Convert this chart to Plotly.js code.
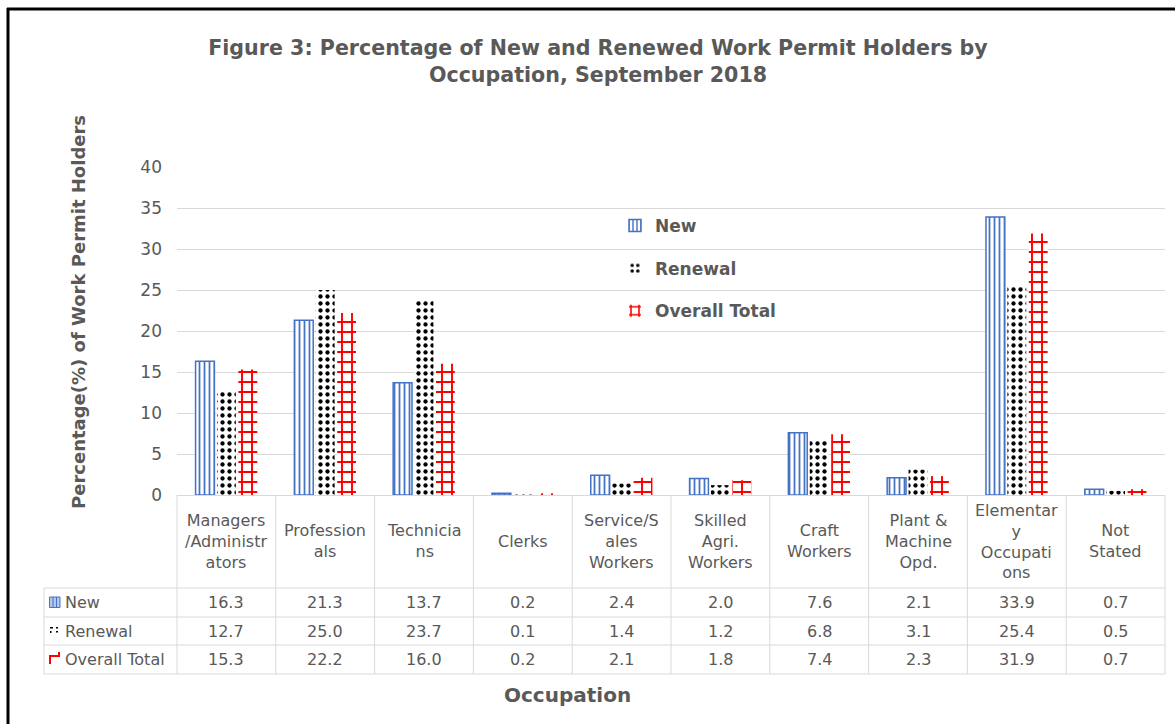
<!DOCTYPE html>
<html><head><meta charset="utf-8">
<script src="https://cdn.plot.ly/plotly-3.0.1.min.js"></script>
<style>html,body{margin:0;padding:0;background:#fff;}#chart{width:1175px;height:724px;}</style>
</head><body><div id="chart"></div>
<script>
// ---- data ----
const categories = ["Managers<br>/Administr<br>ators", "Profession<br>als", "Technicia<br>ns", "Clerks",
  "Service/S<br>ales<br>Workers", "Skilled<br>Agri.<br>Workers", "Craft<br>Workers",
  "Plant &<br>Machine<br>Opd.", "Elementar<br>y<br>Occupati<br>ons", "Not<br>Stated"];
const seriesNames = ["New", "Renewal", "Overall Total"];
const newVals = [16.3, 21.3, 13.7, 0.2, 2.4, 2.0, 7.6, 2.1, 33.9, 0.7];
const renewalVals = [12.7, 25.0, 23.7, 0.1, 1.4, 1.2, 6.8, 3.1, 25.4, 0.5];
const totalVals = [15.3, 22.2, 16.0, 0.2, 2.1, 1.8, 7.4, 2.3, 31.9, 0.7];
const yTickVals = [0, 5, 10, 15, 20, 25, 30, 35, 40];
const titleText = "Figure 3: Percentage of New and Renewed Work Permit Holders by<br>Occupation, September 2018";
const yTitleText = "Percentage(%) of Work Permit Holders";
const xTitleText = "Occupation";

// ---- style ----
const TXT = '#595959', GRID = '#D9D9D9';
const FONT = '"DejaVu Sans", sans-serif';
const W = 1175, H = 724, L = 177, R = 10, T = 167, B = 229;
const pw = W - L - R, ph = H - T - B;
const px = x => (x - L) / pw;       // pixel -> paper x
const py = y => (H - B - y) / ph;   // pixel -> paper y

const BLUE = '#4472C4', RED = '#FF0000';

const traces = [
  {type: 'bar', name: seriesNames[0], x: categories, y: newVals, legendgroup: 'g1', hoverinfo: 'skip',
   marker: {color: '#fff', line: {color: BLUE, width: 1.5},
            pattern: {shape: '|', fgcolor: BLUE, bgcolor: '#fff', size: 5, solidity: 0.35}}},
  {type: 'bar', name: seriesNames[1], x: categories, y: renewalVals, legendgroup: 'g2', hoverinfo: 'skip',
   marker: {color: '#fff', line: {width: 0},
            pattern: {shape: '.', fgcolor: '#000', bgcolor: '#fff', size: 7, solidity: 0.3}}},
  {type: 'bar', name: seriesNames[2], x: categories, y: totalVals, legendgroup: 'g3', hoverinfo: 'skip',
   marker: {color: '#fff', line: {width: 0},
            pattern: {shape: '+', fgcolor: RED, bgcolor: '#fff', size: 10, solidity: 0.35}}}
];

// ---- table geometry (pixel rows) ----
const headerMid = 541;
const rowMids = [602.5, 631, 659.5];
const rowLines = [588, 617, 645, 674];
const tableLeft = 44;

const shapes = [];
const line = (o) => Object.assign({type: 'line', layer: 'above', line: {color: GRID, width: 1}}, o);
// horizontal table lines
rowLines.forEach(y => shapes.push(line({xref: 'paper', yref: 'paper', x0: px(tableLeft), x1: 1, y0: py(y), y1: py(y)})));
// left column edge
shapes.push(line({xref: 'paper', yref: 'paper', x0: px(tableLeft), x1: px(tableLeft), y0: py(rowLines[0]), y1: py(rowLines[3])}));
// outer edges of category columns
[0, 1].forEach(x => shapes.push(line({xref: 'paper', yref: 'paper', x0: x, x1: x, y0: 0, y1: py(rowLines[3])})));
// inner category boundaries
for (let i = 1; i < categories.length; i++) {
  shapes.push(line({xref: 'x', yref: 'paper', x0: i - 0.5, x1: i - 0.5, y0: 0, y1: py(rowLines[3])}));
}
// frame (top and left)
shapes.push({type: 'line', xref: 'paper', yref: 'paper', x0: px(7), x1: px(1180), y0: py(9), y1: py(9), line: {color: '#000', width: 3}});
shapes.push({type: 'line', xref: 'paper', yref: 'paper', x0: px(8), x1: px(8), y0: py(8), y1: py(730), line: {color: '#000', width: 3}});
// legend key swatches in table
shapes.push({type: 'rect', xref: 'paper', yref: 'paper', x0: px(49.5), x1: px(60), y0: py(597), y1: py(607.5),
  line: {color: BLUE, width: 1}, fillcolor: '#B4C7E7'});
shapes.push({type: 'line', xref: 'paper', yref: 'paper', x0: px(53), x1: px(53), y0: py(597), y1: py(607.5), line: {color: BLUE, width: 1}});
shapes.push({type: 'line', xref: 'paper', yref: 'paper', x0: px(56.5), x1: px(56.5), y0: py(597), y1: py(607.5), line: {color: BLUE, width: 1}});
shapes.push({type: 'rect', xref: 'paper', yref: 'paper', x0: px(50), x1: px(53), y0: py(627), y1: py(628.5), line: {width: 0}, fillcolor: '#000'});
shapes.push({type: 'rect', xref: 'paper', yref: 'paper', x0: px(56), x1: px(58), y0: py(627), y1: py(628.5), line: {width: 0}, fillcolor: '#000'});
shapes.push({type: 'rect', xref: 'paper', yref: 'paper', x0: px(50), x1: px(51.5), y0: py(631), y1: py(633), line: {width: 0}, fillcolor: '#000'});
shapes.push({type: 'rect', xref: 'paper', yref: 'paper', x0: px(56), x1: px(58), y0: py(631), y1: py(632.5), line: {width: 0}, fillcolor: '#000'});
shapes.push({type: 'path', xref: 'paper', yref: 'paper', line: {color: RED, width: 2},
  path: `M ${px(50)} ${py(664)} L ${px(50)} ${py(656)} L ${px(59)} ${py(656)} L ${px(59)} ${py(652)}`});

// ---- annotations ----
const annotations = [];
categories.forEach(c => annotations.push({xref: 'x', yref: 'paper', x: c, y: py(headerMid), text: c,
  showarrow: false, xanchor: 'center', yanchor: 'middle', align: 'center', font: {family: FONT, size: 16, color: TXT}}));
const seriesVals = [newVals, renewalVals, totalVals];
seriesNames.forEach((n, r) => {
  annotations.push({xref: 'paper', yref: 'paper', x: px(63), y: py(rowMids[r]), text: n, showarrow: false,
    xanchor: 'left', yanchor: 'middle', font: {family: FONT, size: 16, color: TXT}});
  categories.forEach((c, i) => annotations.push({xref: 'x', yref: 'paper', x: c, y: py(rowMids[r]),
    text: seriesVals[r][i].toFixed(1), showarrow: false, xanchor: 'center', yanchor: 'middle',
    font: {family: FONT, size: 16, color: TXT}}));
});
annotations.push({xref: 'paper', yref: 'paper', x: px(78), y: py(312), text: yTitleText, textangle: -90,
  showarrow: false, xanchor: 'center', yanchor: 'middle', font: {family: FONT, size: 18, color: TXT, weight: 'bold'}});
annotations.push({xref: 'paper', yref: 'paper', x: px(567), y: py(695), text: xTitleText,
  showarrow: false, xanchor: 'center', yanchor: 'middle', font: {family: FONT, size: 20, color: TXT, weight: 'bold'}});

const layout = {
  width: W, height: H,
  margin: {l: L, r: R, t: T, b: B},
  paper_bgcolor: '#fff', plot_bgcolor: '#fff',
  title: {text: titleText, x: 598 / W, xanchor: 'center', y: 1 - 55 / H, yanchor: 'middle', yref: 'container',
          font: {family: FONT, size: 20.6, color: TXT, weight: 'bold'}},
  barmode: 'group', bargap: 0.35, bargroupgap: 0.12,
  showlegend: true,
  legend: {x: px(615), y: py(208), xanchor: 'left', yanchor: 'top', bgcolor: 'rgba(0,0,0,0)',
           tracegroupgap: 17.5, font: {family: FONT, size: 17, color: TXT, weight: 'bold'}},
  xaxis: {type: 'category', range: [-0.5, categories.length - 0.5], showticklabels: false, ticks: '',
          showgrid: false, showline: true, linecolor: GRID, linewidth: 1, zeroline: false, fixedrange: true},
  yaxis: {range: [0, 40], tickvals: yTickVals, showgrid: true, gridcolor: GRID, gridwidth: 1,
          showline: false, zeroline: false, ticks: '', ticklabelstandoff: 14,
          tickfont: {family: FONT, size: 17, color: TXT}, fixedrange: true},
  shapes: shapes, annotations: annotations
};

Plotly.newPlot('chart', traces, layout, {displayModeBar: false, staticPlot: true});
</script>
</body></html>
